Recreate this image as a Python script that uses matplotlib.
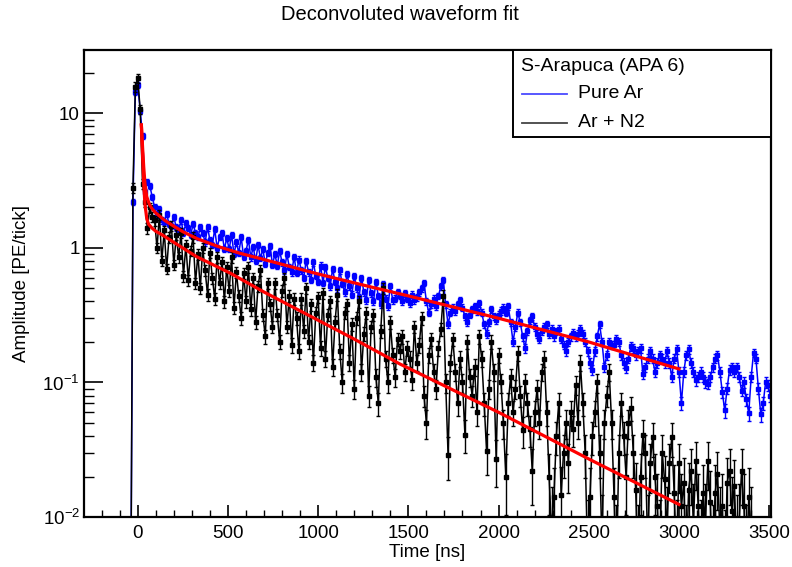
import numpy as np
import matplotlib
matplotlib.use("Agg")
import matplotlib.pyplot as plt
from matplotlib.ticker import MultipleLocator, LogLocator, FuncFormatter, NullFormatter
from matplotlib.lines import Line2D
from matplotlib.patches import Rectangle

plt.rcParams['font.family'] = ['Liberation Sans', 'DejaVu Sans']
plt.rcParams['mathtext.fontset'] = 'custom'
plt.rcParams['mathtext.rm'] = 'Liberation Sans'
plt.rcParams['mathtext.it'] = 'Liberation Sans:italic'
plt.rcParams['mathtext.bf'] = 'Liberation Sans:bold'

# sampling grid of the deconvoluted waveforms (ns)
tick_ns = 40.0 / 3.0
t_start = -40.0

# amplitude per tick [PE/tick]
pure_ar = [
    0.001, 2.2, 14.5, 16.3, 10.5, 6.8, 2.6, 3.1, 2.9, 2.4,
    2.0, 1.75, 1.95, 1.6, 1.55, 1.8, 1.5, 1.45, 1.7, 1.42,
    1.35, 1.6, 1.3, 1.52, 1.4, 1.25, 1.5, 1.3, 1.2, 1.42,
    1.3, 1.1, 1.42, 1.15, 1.05, 1.38, 1.0, 1.2, 1.3, 0.98,
    1.18, 0.98, 1.25, 0.9, 1.1, 0.92, 1.2, 0.86, 0.95, 1.15,
    0.85, 1.02, 0.8, 1.05, 0.84, 0.98, 0.76, 0.92, 1.04, 0.75,
    0.9, 0.74, 0.95, 0.78, 0.68, 0.9, 0.72, 0.66, 0.86, 0.65,
    0.82, 0.68, 0.6, 0.8, 0.66, 0.58, 0.78, 0.62, 0.56, 0.74,
    0.55, 0.72, 0.6, 0.52, 0.7, 0.56, 0.5, 0.68, 0.54, 0.47,
    0.64, 0.52, 0.45, 0.62, 0.5, 0.43, 0.6, 0.47, 0.41, 0.58,
    0.46, 0.4, 0.56, 0.44, 0.38, 0.54, 0.42, 0.37, 0.52, 0.41,
    0.42, 0.47, 0.44, 0.40, 0.46, 0.42, 0.39, 0.45, 0.41, 0.43,
    0.47, 0.50, 0.55, 0.40, 0.33, 0.38, 0.42, 0.37, 0.44, 0.52,
    0.58, 0.38, 0.27, 0.33, 0.36, 0.34, 0.38, 0.41, 0.36, 0.31,
    0.28, 0.32, 0.35, 0.37, 0.34, 0.39, 0.33, 0.27, 0.23, 0.28,
    0.35, 0.31, 0.29, 0.32, 0.34, 0.36, 0.33, 0.37, 0.28, 0.20,
    0.26, 0.33, 0.28, 0.22, 0.18, 0.24, 0.29, 0.31, 0.26, 0.23,
    0.21, 0.24, 0.26, 0.27, 0.23, 0.25, 0.22, 0.24, 0.25, 0.21,
    0.19, 0.17, 0.20, 0.22, 0.235, 0.22, 0.23, 0.25, 0.23, 0.2,
    0.17, 0.14, 0.124, 0.17, 0.22, 0.27, 0.2, 0.13, 0.16, 0.20,
    0.19, 0.19, 0.21, 0.20, 0.16, 0.14, 0.128, 0.15, 0.186, 0.18,
    0.16, 0.17, 0.18, 0.115, 0.13, 0.15, 0.17, 0.15, 0.12, 0.14,
    0.16, 0.15, 0.14, 0.17, 0.14, 0.11, 0.15, 0.176, 0.12, 0.07,
    0.12, 0.16, 0.177, 0.14, 0.12, 0.104, 0.11, 0.12, 0.11, 0.10,
    0.098, 0.11, 0.13, 0.15, 0.16, 0.12, 0.085, 0.062, 0.09, 0.124,
    0.13, 0.12, 0.13, 0.11, 0.087, 0.1, 0.075, 0.059, 0.11, 0.166,
    0.15, 0.09, 0.058, 0.07, 0.10, 0.095, 0.08,
]

ar_n2 = [
    0.001, 2.8, 15.8, 18.3, 10.7, 3.0, 2.2, 1.4, 2.0, 1.7,
    1.6, 1.0, 1.75, 0.8, 1.35, 0.7, 1.2, 1.45, 0.75, 1.25,
    0.85, 1.3, 0.62, 1.05, 0.58, 0.95, 1.2, 0.55, 0.9, 0.5,
    1.0, 0.68, 0.45, 0.92, 0.6, 0.42, 0.85, 0.55, 0.78, 0.4,
    0.72, 0.48, 0.85, 0.36, 0.66, 0.44, 0.3, 0.65, 0.4, 0.72,
    0.35, 0.6, 0.28, 0.52, 0.68, 0.32, 0.22, 0.55, 0.38, 0.26,
    0.55, 0.32, 0.2, 0.48, 0.6, 0.26, 0.44, 0.19, 0.42, 0.3,
    0.17, 0.42, 0.24, 0.5, 0.2, 0.38, 0.14, 0.33, 0.43, 0.18,
    0.46, 0.15, 0.32, 0.4, 0.13, 0.28, 0.45, 0.17, 0.1, 0.33,
    0.38, 0.14, 0.27, 0.09, 0.3, 0.4, 0.12, 0.23, 0.33, 0.08,
    0.26, 0.32, 0.11, 0.07, 0.24, 0.5, 0.15, 0.1, 0.28, 0.16,
    0.11, 0.21, 0.17, 0.22, 0.12, 0.18, 0.15, 0.105, 0.26, 0.14,
    0.19, 0.3, 0.08, 0.05, 0.16, 0.21, 0.12, 0.09, 0.18, 0.25,
    0.44, 0.1, 0.029, 0.14, 0.21, 0.12, 0.07, 0.15, 0.1, 0.041,
    0.2, 0.11, 0.08, 0.13, 0.06, 0.22, 0.15, 0.07, 0.031, 0.09,
    0.2, 0.12, 0.027, 0.16, 0.1, 0.05, 0.02, 0.07, 0.11, 0.06,
    0.09, 0.166, 0.08, 0.044, 0.1, 0.07, 0.045, 0.022, 0.06, 0.09,
    0.05, 0.12, 0.15, 0.06, 0.02, 0.008, 0.014, 0.04, 0.07, 0.0145,
    0.03, 0.05, 0.025, 0.06, 0.045, 0.096, 0.05, 0.14, 0.07, 0.03,
    0.005, 0.014, 0.04, 0.06, 0.10, 0.03, 0.006, 0.05, 0.08, 0.12,
    0.05, 0.014, 0.004, 0.03, 0.07, 0.04, 0.02, 0.05, 0.065, 0.03,
    0.016, 0.004, 0.02, 0.041, 0.03, 0.006, 0.025, 0.039, 0.02, 0.012,
    0.005, 0.03, 0.019, 0.008, 0.025, 0.039, 0.015, 0.005, 0.025, 0.012,
    0.018, 0.004, 0.016, 0.022, 0.009, 0.026, 0.012, 0.005, 0.015, 0.009,
    0.026, 0.013, 0.004, 0.015, 0.021, 0.008, 0.012, 0.003, 0.018, 0.022,
    0.011, 0.017, 0.006, 0.009, 0.022, 0.012, 0.004, 0.014, 0.008,
]

# fitted curves, read at a few times (ns)
fit_pure_t = [20, 27, 33, 40, 50, 65, 80, 100, 150, 200, 250, 330, 450, 570,
              700, 1000, 1300, 1500, 2000, 2500, 3000]
fit_pure_y = [8.2, 5.5, 4.0, 3.0, 2.4, 2.1, 1.95, 1.82, 1.6, 1.45, 1.32, 1.17, 1.02, 0.91,
              0.82, 0.64, 0.51, 0.44, 0.30, 0.20, 0.126]
fit_n2_t = [20, 27, 33, 40, 50, 60, 80, 100, 140, 200, 327, 512, 700, 1000,
            1200, 1454, 2000, 2500, 3000]
fit_n2_y = [8.2, 4.8, 3.0, 2.1, 1.65, 1.5, 1.4, 1.33, 1.24, 1.1, 0.86, 0.65, 0.47, 0.29,
            0.21, 0.137, 0.06, 0.027, 0.0124]

t_pure = t_start + tick_ns * np.arange(len(pure_ar))
t_n2 = t_start + tick_ns * np.arange(len(ar_n2))

# rough error bars (statistical floor + relative part)
err_pure = 0.004 + 0.05 * np.array(pure_ar)
err_n2 = 0.008 + 0.08 * np.array(ar_n2)

fig, ax = plt.subplots(figsize=(7.92, 5.67), dpi=100)
fig.subplots_adjust(left=84/792, right=771/792, top=1-50/567, bottom=1-517/567)
ax.set_yscale('log', nonpositive='clip')

ax.errorbar(t_pure, pure_ar, yerr=err_pure, color='blue', lw=1.1, marker='s', ms=2.7,
            capsize=1.6, elinewidth=1.0, capthick=1.0, zorder=2)
ax.errorbar(t_n2, ar_n2, yerr=err_n2, color='black', lw=1.1, marker='s', ms=2.5,
            capsize=1.6, elinewidth=1.0, capthick=1.0, zorder=3)
ax.plot(fit_pure_t, fit_pure_y, color='red', lw=2.3, zorder=4)
ax.plot(fit_n2_t, fit_n2_y, color='red', lw=2.3, zorder=4)

ax.set_xlim(-298, 3510)
ax.set_ylim(0.01, 29.6)

ax.xaxis.set_major_locator(MultipleLocator(500))
ax.xaxis.set_minor_locator(MultipleLocator(100))
ax.yaxis.set_major_locator(LogLocator(base=10))
ax.yaxis.set_minor_locator(LogLocator(base=10, subs=np.arange(2, 10)))
ax.yaxis.set_minor_formatter(NullFormatter())


def ylab(v, pos):
    if v >= 1:
        return f"{v:g}"
    return r"$10^{%d}$" % round(np.log10(v))


ax.yaxis.set_major_formatter(FuncFormatter(ylab))

ax.tick_params(which='both', direction='in', top=False, right=False, labelsize=13.5)
ax.tick_params(axis='x', which='major', length=8.6, width=1.2, pad=5.5)
ax.tick_params(axis='x', which='minor', length=4.7, width=1.0)
ax.tick_params(axis='y', which='major', length=13.5, width=1.2, pad=3)
ax.tick_params(axis='y', which='minor', length=7.2, width=1.0)
for s in ax.spines.values():
    s.set_linewidth(1.6)

ax.set_xlabel("Time [ns]", fontsize=13.5)
ax.xaxis.set_label_coords(0.5, -0.057)
ax.set_ylabel("Amplitude [PE/tick]", fontsize=13.5)
ax.yaxis.set_label_coords(-0.079, 0.5)

fig.text(0.505, 1 - 14/567, "Deconvoluted waveform fit", ha='center', va='center', fontsize=14.5)

# legend box drawn by hand like the ROOT TLegend
ax.add_patch(Rectangle((0.624, 0.814), 0.376, 0.186, transform=ax.transAxes,
                       facecolor='white', edgecolor='black', lw=1.4, zorder=10))
ax.text(0.636, 0.964, "S-Arapuca (APA 6)", transform=ax.transAxes, ha='left', va='center',
        fontsize=14, zorder=11)
ax.add_line(Line2D([0.6376, 0.703], [0.906, 0.906], transform=ax.transAxes,
                   color='#4a4aff', lw=1.3, zorder=11))
ax.text(0.719, 0.906, "Pure Ar", transform=ax.transAxes, ha='left', va='center',
        fontsize=14, zorder=11)
ax.add_line(Line2D([0.6376, 0.703], [0.844, 0.844], transform=ax.transAxes,
                   color='#444444', lw=1.3, zorder=11))
ax.text(0.719, 0.844, "Ar + N2", transform=ax.transAxes, ha='left', va='center',
        fontsize=14, zorder=11)

fig.savefig("out.png", dpi=100)
